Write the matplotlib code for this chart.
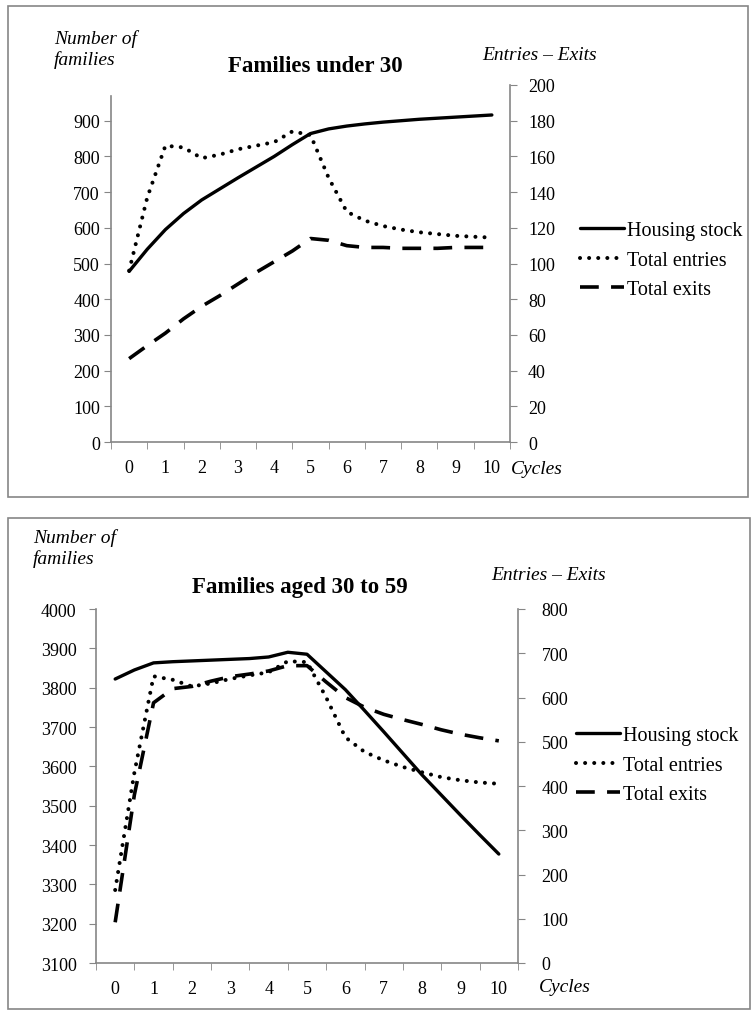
import numpy as np
import matplotlib
matplotlib.use('Agg')
import matplotlib.pyplot as plt
from matplotlib.patches import Rectangle

plt.rcParams['font.family'] = ['Liberation Serif', 'DejaVu Serif']

# cycles, read at half-cycle steps
cycles = [0, 0.5, 1, 1.5, 2, 2.5, 3, 3.5, 4, 4.5, 5, 5.5, 6, 6.5, 7, 7.5, 8, 8.5, 9, 9.5, 10]
cycle_labels = [str(i) for i in range(11)]

# Families under 30
u30_stock = [478, 540, 595, 640, 678, 709, 740, 770, 800, 833, 864, 877, 885, 891,
             896, 900, 904, 907, 910, 913, 916]
u30_entries = [96, 137, 166, 165, 159, 161, 164, 166, 168, 174, 172, 148, 129, 124,
               121, 119, 117.5, 116.5, 115.5, 115, 114.5]
u30_exits = [46.7, 54, 61, 69, 76, 82, 88.5, 95, 101, 107, 114, 113, 110, 109,
             109, 108.5, 108.5, 108.5, 109, 109, 109]

# Families aged 30 to 59
mid_stock = [3822, 3845, 3863, 3866, 3868, 3870, 3872, 3874, 3878, 3890, 3885, 3840,
             3795, 3742, 3688, 3633, 3578, 3527, 3476, 3426, 3377]
mid_entries = [165, 430, 648, 640, 625, 632, 642, 650, 657, 682, 680, 600, 510, 477,
               458, 443, 431, 420, 413, 408, 405]
mid_exits = [92, 380, 588, 620, 625, 637, 647, 653, 660, 672, 672, 635, 600, 578,
             562, 550, 539, 527, 517, 509, 502]

series_names = ['Housing stock', 'Total entries', 'Total exits']

W, H = 752, 1012
GRAY = '#868686'
fig = plt.figure(figsize=(W / 100, H / 100), dpi=100)


def fx(x):
    return x / W


def fy(y):
    return 1 - y / H


def panel(l, t, r, b, stock, entries, exits, lticks, lmax, lspine_top,
          rticks, rmax, title, tpos, numpos, erpos, cycpos, legpos, lpad, rpad):
    ax = fig.add_axes([fx(l), fy(b), (r - l) / W, (b - t) / H])
    ax2 = ax.twinx()

    l1, = ax.plot(cycles, stock, color='black', lw=2.4, solid_capstyle='round',
                  solid_joinstyle='round')
    l2, = ax2.plot(cycles, entries, color='black', lw=2.9,
                   linestyle=(0, (0.01, 2.25)), dash_capstyle='round')
    l3, = ax2.plot(cycles, exits, color='black', lw=2.6,
                   linestyle=(0, (5.2, 3.4)), dash_capstyle='butt')

    ax.set_xlim(-0.5, 10.5)
    ax.set_ylim(lticks[0], lmax)
    ax.set_yticks(lticks)
    ax2.set_ylim(rticks[0], rmax)
    ax2.set_yticks(rticks)
    ax.set_xticks(range(11))
    ax.set_xticklabels(cycle_labels)
    ax.set_xticks(np.arange(-0.5, 11, 1), minor=True)
    ax.tick_params(axis='x', which='major', length=0, pad=12, labelsize=13)
    ax.tick_params(axis='x', which='minor', length=5, color=GRAY, direction='out')
    ax.tick_params(axis='y', length=5, color=GRAY, pad=lpad, labelsize=13)
    ax2.tick_params(axis='y', length=5, color=GRAY, pad=rpad, labelsize=13)

    for a in (ax, ax2):
        for s in a.spines.values():
            s.set_color(GRAY)
            s.set_linewidth(1.2)
        a.spines['top'].set_visible(False)
    ax.spines['right'].set_visible(False)
    ax2.spines['left'].set_visible(False)
    ax2.spines['bottom'].set_visible(False)
    ax.spines['left'].set_bounds(lticks[0], lspine_top)

    fig.text(fx(tpos[0]), fy(tpos[1]), title, fontsize=16.5, fontweight='bold',
             ha='center', va='center')
    fig.text(fx(numpos[0]), fy(numpos[1]), 'Number of\nfamilies', fontsize=14,
             style='italic', ha='left', va='top', linespacing=1.25)
    fig.text(fx(erpos[0]), fy(erpos[1]), 'Entries \u2013 Exits', fontsize=14,
             style='italic', ha='left', va='center')
    fig.text(fx(cycpos[0]), fy(cycpos[1]), 'Cycles', fontsize=14,
             style='italic', ha='left', va='center')

    ax2.legend([l1, l2, l3], series_names, loc='center left',
               bbox_to_anchor=(fx(legpos[0]), fy(legpos[1])),
               bbox_transform=fig.transFigure, frameon=False, fontsize=14.5,
               handlelength=2.2, handletextpad=0.15, labelspacing=0.5,
               borderaxespad=0, borderpad=0)


# panel frames
fig.patches.append(Rectangle((fx(8), fy(498)), (748 - 8) / W, (498 - 7) / H,
                             transform=fig.transFigure, fill=False,
                             edgecolor=GRAY, lw=1.2))
fig.patches.append(Rectangle((fx(8), fy(1010)), (750 - 8) / W, (1010 - 519) / H,
                             transform=fig.transFigure, fill=False,
                             edgecolor=GRAY, lw=1.2))

panel(111, 86, 510, 443, u30_stock, u30_entries, u30_exits,
      list(range(0, 1000, 100)), 1000, 970, list(range(0, 220, 20)), 200,
      'Families under 30', (315, 67), (54, 30), (482, 56), (511, 470),
      (580, 261), 3, 8)

panel(96, 610, 518, 964, mid_stock, mid_entries, mid_exits,
      list(range(3100, 4100, 100)), 4000, 4000, list(range(0, 900, 100)), 800,
      'Families aged 30 to 59', (300, 587), (33, 529), (491, 575), (539, 988),
      (576, 766), 9, 12)

fig.savefig('out.png', dpi=100)
